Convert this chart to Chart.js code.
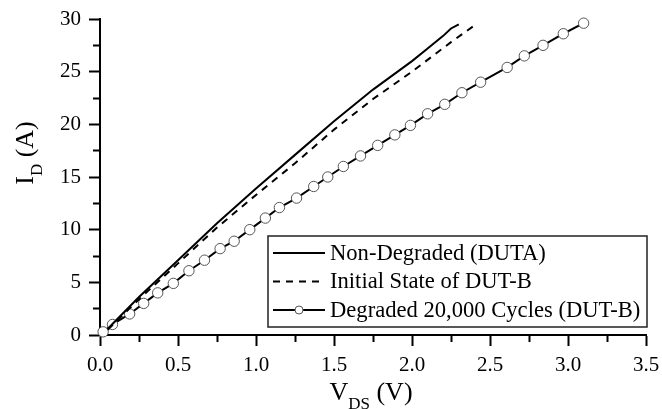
<!DOCTYPE html>
<html>
<head>
<meta charset="utf-8">
<script src="https://cdn.jsdelivr.net/npm/chart.js@4/dist/chart.umd.min.js"></script>
<style>
  html, body { margin: 0; padding: 0; background: #ffffff; }
  #c { display: block; }
</style>
</head>
<body>
<canvas id="c" width="662" height="409"></canvas>
<script>
// ---- Data ----
const seriesLabels = ['Non-Degraded (DUTA)', 'Initial State of DUT-B', 'Degraded 20,000 Cycles (DUT-B)'];

const nonDegradedV = [0.05, 0.25, 0.5, 0.75, 1.0, 1.25, 1.5, 1.75, 2.0, 2.1, 2.2, 2.25, 2.3];
const nonDegradedI = [0.6, 3.6, 7.1, 10.6, 13.9, 17.1, 20.3, 23.3, 26.0, 27.2, 28.4, 29.1, 29.5];

const initialV = [0.05, 0.25, 0.5, 0.75, 1.0, 1.25, 1.5, 1.75, 2.0, 2.25, 2.42];
const initialI = [0.5, 3.4, 6.8, 10.2, 13.3, 16.3, 19.5, 22.4, 25.0, 27.8, 29.6];

const degradedV = [0.02, 0.08, 0.19, 0.28, 0.37, 0.47, 0.57, 0.67, 0.77, 0.86, 0.96, 1.06, 1.15, 1.26, 1.37,
                   1.46, 1.56, 1.67, 1.78, 1.89, 1.99, 2.10, 2.21, 2.32, 2.44, 2.61, 2.72, 2.84, 2.97, 3.10];
const degradedI = [0.3, 1.0, 2.0, 3.0, 4.0, 4.9, 6.1, 7.1, 8.2, 8.9, 10.0, 11.1, 12.1, 13.0, 14.1,
                   15.0, 16.0, 17.0, 18.0, 19.0, 19.9, 21.0, 21.9, 23.0, 24.0, 25.4, 26.5, 27.5, 28.6, 29.6];

const xTickLabels = ['0.0', '0.5', '1.0', '1.5', '2.0', '2.5', '3.0', '3.5'];
const yTickLabels = ['0', '5', '10', '15', '20', '25', '30'];

const xTitle = { main: 'V', sub: 'DS', rest: ' (V)' };
const yTitle = { main: 'I', sub: 'D', rest: ' (A)' };

// ---- helpers ----
const toPoints = (xs, ys) => xs.map((x, i) => ({ x: x, y: ys[i] }));
const FONT = "'Liberation Serif', 'Times New Roman', serif";

const axisTitles = {
  id: 'axisTitles',
  afterDraw(chart) {
    const ctx = chart.ctx;
    const ca = chart.chartArea;
    const big = 26, small = 17;
    ctx.save();
    ctx.fillStyle = '#000';
    ctx.textBaseline = 'alphabetic';
    ctx.textAlign = 'left';
    // X title
    ctx.font = big + 'px ' + FONT;
    const wMain = ctx.measureText(xTitle.main).width;
    const wRest = ctx.measureText(xTitle.rest).width;
    ctx.font = small + 'px ' + FONT;
    const wSub = ctx.measureText(xTitle.sub).width;
    const total = wMain + wSub + wRest;
    let x0 = (ca.left + ca.right) / 2 - total / 2 - 2;
    const by = 400;
    ctx.font = big + 'px ' + FONT;
    ctx.fillText(xTitle.main, x0, by);
    ctx.font = small + 'px ' + FONT;
    ctx.fillText(xTitle.sub, x0 + wMain, by + 9);
    ctx.font = big + 'px ' + FONT;
    ctx.fillText(xTitle.rest, x0 + wMain + wSub, by);

    // Y title (rotated)
    ctx.font = big + 'px ' + FONT;
    const yMain = ctx.measureText(yTitle.main).width;
    const yRest = ctx.measureText(yTitle.rest).width;
    ctx.font = small + 'px ' + FONT;
    const ySub = ctx.measureText(yTitle.sub).width;
    const yTotal = yMain + ySub + yRest;
    ctx.translate(33, 153 + yTotal / 2);
    ctx.rotate(-Math.PI / 2);
    ctx.font = big + 'px ' + FONT;
    ctx.fillText(yTitle.main, 0, 0);
    ctx.font = small + 'px ' + FONT;
    ctx.fillText(yTitle.sub, yMain, 9);
    ctx.font = big + 'px ' + FONT;
    ctx.fillText(yTitle.rest, yMain + ySub, 0);
    ctx.restore();
  }
};

const boxedLegend = {
  id: 'boxedLegend',
  afterDatasetsDraw(chart) {
    const ctx = chart.ctx;
    const ca = chart.chartArea;
    const left = ca.left + 168, top = ca.top + 217;
    const w = ca.right + 1 - left, h = 91;
    ctx.save();
    ctx.fillStyle = '#fff';
    ctx.fillRect(left, top, w, h);
    ctx.strokeStyle = '#222';
    ctx.lineWidth = 1.5;
    ctx.strokeRect(left, top, w, h);
    ctx.font = '22.6px ' + FONT;
    ctx.textBaseline = 'middle';
    ctx.textAlign = 'left';
    chart.data.datasets.forEach((ds, i) => {
      const cy = top + 17 + i * 28.5;
      const x1 = left + 5, x2 = left + 57;
      ctx.beginPath();
      ctx.setLineDash(ds.borderDash || []);
      ctx.strokeStyle = ds.borderColor;
      ctx.lineWidth = ds.borderWidth;
      ctx.moveTo(x1, cy);
      ctx.lineTo(x2, cy);
      ctx.stroke();
      ctx.setLineDash([]);
      if (ds.pointRadius > 0) {
        ctx.beginPath();
        ctx.arc((x1 + x2) / 2, cy, 4, 0, Math.PI * 2);
        ctx.fillStyle = ds.pointBackgroundColor;
        ctx.fill();
        ctx.lineWidth = 1;
        ctx.strokeStyle = ds.pointBorderColor;
        ctx.stroke();
      }
      ctx.fillStyle = '#000';
      ctx.fillText(ds.label, x2 + 5, cy + 1);
    });
    ctx.restore();
  }
};

const isMultiple = (v, step) => Math.abs(v / step - Math.round(v / step)) < 1e-6;

new Chart(document.getElementById('c'), {
  type: 'scatter',
  data: {
    datasets: [
      {
        label: seriesLabels[0],
        data: toPoints(nonDegradedV, nonDegradedI),
        showLine: true, borderColor: '#000', borderWidth: 2, pointRadius: 0,
        tension: 0, clip: false
      },
      {
        label: seriesLabels[1],
        data: toPoints(initialV, initialI),
        showLine: true, borderColor: '#000', borderWidth: 2, borderDash: [7, 6], pointRadius: 0,
        tension: 0, clip: false
      },
      {
        label: seriesLabels[2],
        data: toPoints(degradedV, degradedI),
        showLine: true, borderColor: '#000', borderWidth: 2,
        pointRadius: 5.2, pointBackgroundColor: '#fff', pointBorderColor: '#555', pointBorderWidth: 1,
        tension: 0, clip: false
      }
    ]
  },
  options: {
    responsive: false,
    devicePixelRatio: 1,
    animation: false,
    layout: { padding: { top: 19, right: 16, left: 0, bottom: 0 } },
    plugins: { legend: { display: false }, tooltip: { enabled: false } },
    scales: {
      x: {
        type: 'linear', min: 0, max: 3.5,
        afterFit: s => { s.height = 74; s.paddingRight = 0; s.paddingLeft = 0; },
        afterBuildTicks: s => { s.ticks = []; for (let k = 0; k <= 14; k++) s.ticks.push({ value: k * 0.25 }); },
        ticks: {
          autoSkip: false, maxRotation: 0, padding: 7, color: '#000',
          font: { family: FONT, size: 21 },
          callback: v => isMultiple(v, 0.5) ? xTickLabels[Math.round(v / 0.5)] : ''
        },
        grid: {
          drawOnChartArea: false, drawTicks: true, tickLength: 11, tickWidth: 2, tickColor: '#000',
          tickBorderDash: c => isMultiple(c.tick.value, 0.5) ? [] : [6, 100]
        },
        border: { display: true, color: '#000', width: 2 }
      },
      y: {
        type: 'linear', min: 0, max: 30,
        afterFit: s => { s.width = 100; s.paddingTop = 0; s.paddingBottom = 0; },
        afterBuildTicks: s => { s.ticks = []; for (let k = 0; k <= 12; k++) s.ticks.push({ value: k * 2.5 }); },
        ticks: {
          autoSkip: false, padding: 8, color: '#000',
          font: { family: FONT, size: 21 },
          callback: v => isMultiple(v, 5) ? yTickLabels[Math.round(v / 5)] : ''
        },
        grid: {
          drawOnChartArea: false, drawTicks: true, tickLength: 11, tickWidth: 2, tickColor: '#000',
          tickBorderDash: c => isMultiple(c.tick.value, 5) ? [] : [0, 4, 6, 100]
        },
        border: { display: true, color: '#000', width: 2 }
      }
    }
  },
  plugins: [boxedLegend, axisTitles]
});
</script>
</body>
</html>
